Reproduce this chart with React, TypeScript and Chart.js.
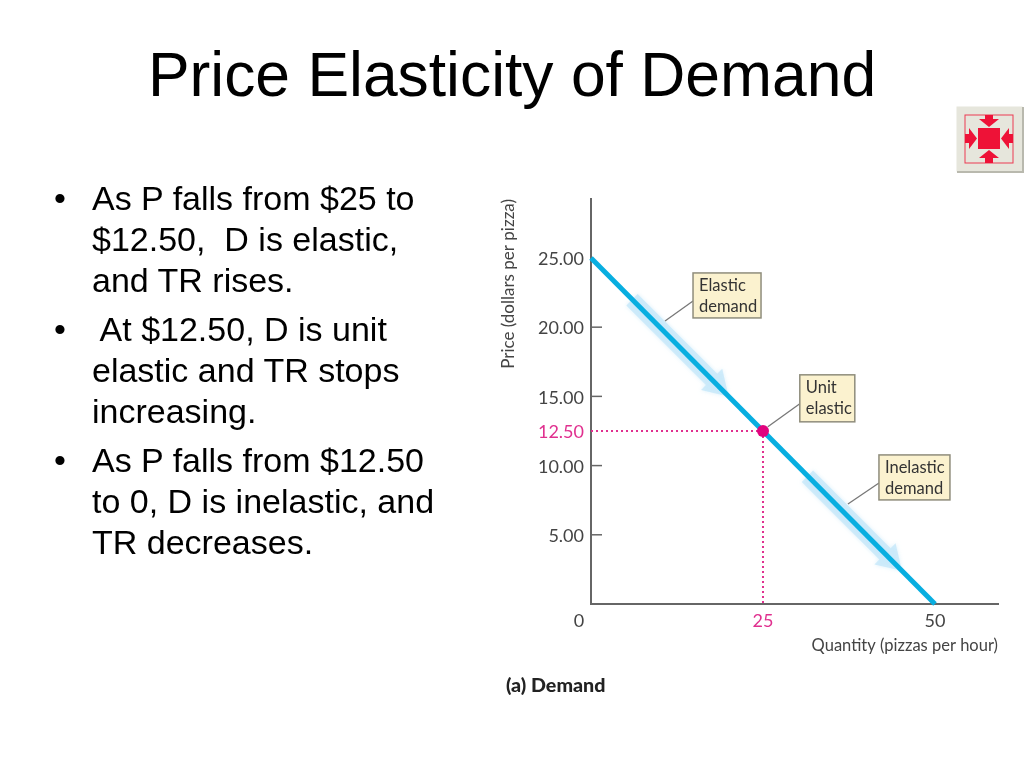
import React, { useEffect, useRef } from "react";
import { Chart, registerables } from "chart.js";

Chart.register(...registerables);

const titleText = "Price Elasticity of Demand";
const bulletLines = [
  "As P falls from $25 to",
  "$12.50,  D is elastic,",
  "and TR rises.",
  " At $12.50, D is unit",
  "elastic and TR stops",
  "increasing.",
  "As P falls from $12.50",
  "to 0, D is inelastic, and",
  "TR decreases.",
];
const bulletStarts = [0, 3, 6];
const lineTops = [198, 239, 280, 329, 370, 411, 460, 501, 542];

const demandQuantity = [0, 50];
const demandPrice = [25, 0];
const unitQuantity = [25];
const unitPrice = [12.5];
const guideHQuantity = [0, 25];
const guideHPrice = [12.5, 12.5];
const guideVQuantity = [25, 25];
const guideVPrice = [12.5, 0];
const xTicks = [25, 50];
const yTicks = [5, 10, 12.5, 15, 20, 25];
const yTickMarks = [5, 10, 15, 20];
const xMax = 59.16;
const yMax = 29.26;
const xTitle = "Quantity (pizzas per hour)";
const yTitle = "Price (dollars per pizza)";
const caption = "(a) Demand";
const elasticArrow = [6, 20];
const inelasticArrow = [31.5, 45.2];
const elasticLabel = ["Elastic", "demand"];
const unitLabel = ["Unit", "elastic"];
const inelasticLabel = ["Inelastic", "demand"];
const elasticAnchor = [10.76, 20.45];
const unitAnchor = [25.7, 12.8];
const inelasticAnchor = [37.35, 7.23];

const PINK = "#e0308f";
const BLUE = "#08aee0";
const TEXT = "#444";
const FONT = "Lato";

const callouts = [
  { lines: elasticLabel, at: elasticAnchor, dx: 28, dy: -48, w: 68, h: 45, ly: -20 },
  { lines: unitLabel, at: unitAnchor, dx: 32, dy: -52, w: 55, h: 47, ly: -23 },
  { lines: inelasticLabel, at: inelasticAnchor, dx: 31, dy: -49, w: 71, h: 45, ly: -21 },
];

const overlay = {
  id: "overlay",
  beforeDatasetsDraw(chart: any) {
    const { ctx, scales: { x, y } } = chart;
    const priceAt = (q: number) => 25 - q / 2;
    const s = Math.SQRT1_2;
    const arrow = (range: number[]) => {
      const p0 = [x.getPixelForValue(range[0]), y.getPixelForValue(priceAt(range[0]))];
      const p1 = [x.getPixelForValue(range[1]), y.getPixelForValue(priceAt(range[1]))];
      const pt = (along: number, side: number) => [p1[0] - along * s + side * s, p1[1] - along * s - side * s];
      const len = Math.hypot(p1[0] - p0[0], p1[1] - p0[1]);
      const pts = [pt(len, 8), pt(24, 8), pt(24, 15), pt(0, 0), pt(24, -15), pt(24, -8), pt(len, -8)];
      ctx.save();
      ctx.fillStyle = "rgba(196,231,249,0.75)";
      ctx.shadowColor = "rgba(196,231,249,0.8)";
      ctx.shadowBlur = 4;
      ctx.beginPath();
      pts.forEach((p, i) => (i ? ctx.lineTo(p[0], p[1]) : ctx.moveTo(p[0], p[1])));
      ctx.closePath();
      ctx.fill();
      ctx.restore();
    };
    arrow(elasticArrow);
    arrow(inelasticArrow);

    ctx.save();
    ctx.strokeStyle = "#666";
    ctx.lineWidth = 1.5;
    yTickMarks.forEach((v) => {
      const py = y.getPixelForValue(v);
      ctx.beginPath();
      ctx.moveTo(x.left, py);
      ctx.lineTo(x.left + 11, py);
      ctx.stroke();
    });
    ctx.restore();
  },
  afterDatasetsDraw(chart: any) {
    const { ctx, scales: { x, y } } = chart;
    ctx.save();
    ctx.font = `18px ${FONT}`;
    ctx.fillStyle = TEXT;
    ctx.textAlign = "center";
    ctx.textBaseline = "middle";
    ctx.fillText("0", x.getPixelForValue(0) - 12, y.getPixelForValue(0) + 17);

    callouts.forEach((c) => {
      const sx = x.getPixelForValue(c.at[0]);
      const sy = y.getPixelForValue(c.at[1]);
      const bx = sx + c.dx;
      const by = sy + c.dy;
      ctx.strokeStyle = "#777";
      ctx.lineWidth = 1.3;
      ctx.beginPath();
      ctx.moveTo(sx, sy);
      ctx.lineTo(bx, sy + c.ly);
      ctx.stroke();
      ctx.fillStyle = "#fbf2cf";
      ctx.fillRect(bx, by, c.w, c.h);
      ctx.strokeStyle = "#8f8d7c";
      ctx.lineWidth = 1.5;
      ctx.strokeRect(bx, by, c.w, c.h);
      ctx.fillStyle = "#333";
      ctx.font = `16.5px ${FONT}`;
      ctx.textAlign = "left";
      c.lines.forEach((t, i) => ctx.fillText(t, bx + 6, by + 13 + i * 21));
    });
    ctx.restore();
  },
};

function RedIcon() {
  return (
    <svg width="68" height="67" viewBox="0 0 68 67" style={{ position: "absolute", left: 956, top: 106 }}>
      <rect x="0.5" y="0.5" width="66" height="65" fill="#e6e6dc" />
      <path d="M1 66 H67 V1" fill="none" stroke="#b9b9ae" strokeWidth="2" />
      <rect x="9" y="9" width="48" height="48" fill="none" stroke="#ec3a52" strokeWidth="1" />
      <rect x="22" y="22" width="22" height="21" fill="#ee1237" />
      <path d="M29 9 H37 V13 H43 L33 21 L23 13 H29 Z" fill="#ee1237" />
      <path d="M29 57 H37 V52 H43 L33 44 L23 52 H29 Z" fill="#ee1237" />
      <path d="M9 28 H13 V22 L21 32.5 L13 43 V37 H9 Z" fill="#ee1237" />
      <path d="M57 28 H53 V22 L45 32.5 L53 43 V37 H57 Z" fill="#ee1237" />
    </svg>
  );
}

export default function App() {
  const ref = useRef<HTMLCanvasElement>(null);

  useEffect(() => {
    const chart = new Chart(ref.current as HTMLCanvasElement, {
      type: "scatter",
      plugins: [overlay],
      data: {
        datasets: [
          {
            data: unitQuantity.map((q, i) => ({ x: q, y: unitPrice[i] })),
            pointRadius: 6,
            pointBackgroundColor: "#e0047e",
            pointBorderWidth: 0,
            showLine: false,
            order: 0,
            clip: false,
          },
          {
            data: demandQuantity.map((q, i) => ({ x: q, y: demandPrice[i] })),
            showLine: true,
            borderColor: BLUE,
            borderWidth: 5,
            pointRadius: 0,
            order: 1,
            clip: false,
          },
          {
            data: guideHQuantity.map((q, i) => ({ x: q, y: guideHPrice[i] })),
            showLine: true,
            borderColor: PINK,
            borderWidth: 2,
            borderDash: [2, 3],
            pointRadius: 0,
            order: 2,
          },
          {
            data: guideVQuantity.map((q, i) => ({ x: q, y: guideVPrice[i] })),
            showLine: true,
            borderColor: PINK,
            borderWidth: 2,
            borderDash: [2, 3],
            pointRadius: 0,
            order: 2,
          },
        ],
      },
      options: {
        responsive: false,
        animation: false,
        devicePixelRatio: 1,
        layout: { padding: { left: 498, right: 26, top: 199, bottom: 112 } },
        plugins: { legend: { display: false }, tooltip: { enabled: false }, title: { display: false } },
        scales: {
          x: {
            type: "linear",
            min: 0,
            max: xMax,
            afterFit: (s: any) => { s.height = 52; },
            afterBuildTicks: (s: any) => { s.ticks = xTicks.map((value) => ({ value })); },
            grid: { display: false, drawTicks: false },
            border: { color: "#666", width: 2 },
            ticks: {
              autoSkip: false,
              maxRotation: 0,
              padding: 6,
              font: { family: FONT, size: 18 },
              color: (c: any) => (c.tick.value === 25 ? PINK : TEXT),
              callback: (v: any) => String(v),
            },
            title: {
              display: true,
              text: xTitle,
              align: "end",
              color: TEXT,
              font: { family: FONT, size: 16.5 },
              padding: 0,
            },
          },
          y: {
            type: "linear",
            min: 0,
            max: yMax,
            afterFit: (s: any) => { s.width = 93; },
            afterBuildTicks: (s: any) => { s.ticks = yTicks.map((value) => ({ value })); },
            grid: { display: false, drawTicks: false },
            border: { color: "#666", width: 2 },
            ticks: {
              autoSkip: false,
              padding: 7,
              labelOffset: 1.5,
              font: { family: FONT, size: 18 },
              color: (c: any) => (c.tick.value === 12.5 ? PINK : TEXT),
              callback: (v: any) => Number(v).toFixed(2),
            },
            title: {
              display: true,
              text: yTitle,
              align: "end",
              color: TEXT,
              font: { family: FONT, size: 17 },
              padding: 0,
            },
          },
        },
      },
    } as any);
    return () => chart.destroy();
  }, []);

  const sans = "'Liberation Sans', Arial, sans-serif";
  return (
    <div style={{ position: "absolute", left: 0, top: 0, width: 1024, height: 768, background: "#fff", overflow: "hidden" }}>
      <canvas ref={ref} width={1024} height={768} style={{ position: "absolute", left: 0, top: 0 }} />
      <div style={{ position: "absolute", left: 0, width: 1024, textAlign: "center", top: 38, fontFamily: sans, fontSize: 62.4, lineHeight: "74px", color: "#000" }}>
        {titleText}
      </div>
      <RedIcon />
      {bulletLines.map((t, i) => (
        <React.Fragment key={i}>
          {bulletStarts.includes(i) && (
            <div style={{ position: "absolute", left: 54, top: lineTops[i] - 20, fontFamily: sans, fontSize: 34, lineHeight: "40px", color: "#000" }}>•</div>
          )}
          <div style={{ position: "absolute", left: 92, top: lineTops[i] - 20, fontFamily: sans, fontSize: 34, lineHeight: "40px", color: "#000", whiteSpace: "pre" }}>
            {t}
          </div>
        </React.Fragment>
      ))}
      <div style={{ position: "absolute", left: 506, top: 675, fontFamily: FONT, fontWeight: 900, fontSize: 19.7, lineHeight: "20px", color: "#222" }}>
        {caption}
      </div>
    </div>
  );
}
